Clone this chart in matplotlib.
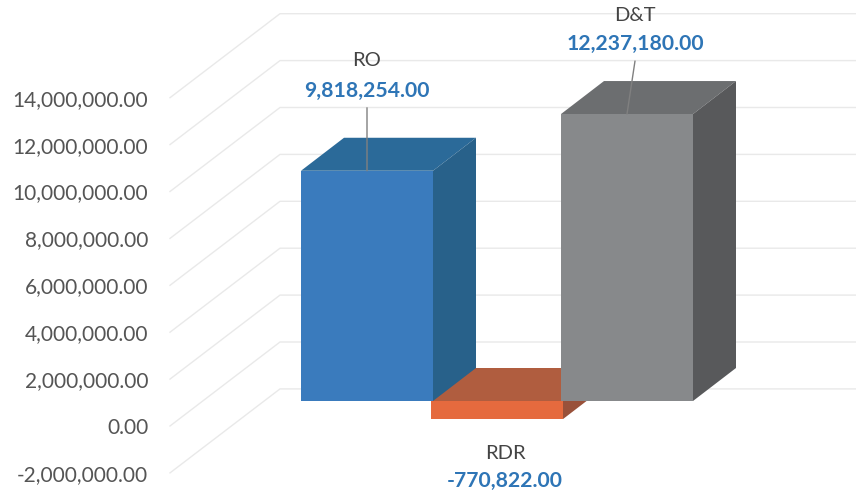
import matplotlib.pyplot as plt
from matplotlib.patches import Polygon

plt.rcParams['font.family'] = ['Lato', 'DejaVu Sans']

categories = ['RO', 'RDR', 'D&T']
values = [9818254.0, -770822.0, 12237180.0]
ticks = [-2000000, 0, 2000000, 4000000, 6000000, 8000000, 10000000, 12000000, 14000000]

front_colors = ['#3a7bbd', '#e56a3e', '#87898b']
top_colors = ['#2b6a99', '#b05d3f', '#6c6e70']
side_colors = ['#28618a', '#99513a', '#58595b']

# pretend-3D: how far things sit from the axis plane, in data units
px_y = 23.45 / 1e6     # pixels per unit on y
px_x = 130             # pixels per category
bar_plane = 25 / px_y
bar_dx = 43 / px_x
bar_dy = 33 / px_y
wall_left = (170 - 367) / px_x
wall_right = (280 - 367) / px_x
wall_dy = 84 / px_y
bar_w = 132 / px_x

fig = plt.figure(figsize=(8.56, 4.95), dpi=100)
ax = fig.add_axes([153 / 856, 0, 1 - 153 / 856, 1])
ax.set_xlim((153 - 367) / px_x, (856 - 367) / px_x)
ax.set_ylim(-69 / px_y, 426 / px_y)


def draw_bar(x, val, i):
    l = x - bar_w / 2
    r = x + bar_w / 2
    low = min(val, 0) + bar_plane
    high = max(val, 0) + bar_plane
    ax.add_patch(Polygon([(l, high), (r, high), (r + bar_dx, high + bar_dy), (l + bar_dx, high + bar_dy)],
                         fc=top_colors[i], ec='none', zorder=3))
    ax.add_patch(Polygon([(r, low), (r + bar_dx, low + bar_dy), (r + bar_dx, high + bar_dy), (r, high)],
                         fc=side_colors[i], ec='none', zorder=3))
    ax.add_patch(Polygon([(l, low), (r, low), (r, high), (l, high)],
                         fc=front_colors[i], ec='none', zorder=3))


# gridlines: slanted on the side wall, then flat along the back wall
for t in ticks:
    ax.plot([wall_left, wall_right, ax.get_xlim()[1]], [t, t + wall_dy, t + wall_dy],
            color='#e9e9e9', lw=1, zorder=1)

# RDR first, the other two sit over it
for i in [1, 0, 2]:
    draw_bar(i, values[i], i)

name_off = [(0, 110), (8, -34), (8, 99)]
val_off = [(0, 80), (8, -62), (8, 70)]
leader_off = [(0, 63), None, (8, 53)]

for i, name in enumerate(categories):
    y = values[i] + bar_plane
    ax.annotate(name, xy=(i, y), xytext=name_off[i], textcoords='offset pixels',
                ha='center', va='center', fontsize=14.5, color='#444444', zorder=5)
    ax.annotate(f'{values[i]:,.2f}', xy=(i, y), xytext=val_off[i], textcoords='offset pixels',
                ha='center', va='center', fontsize=15.2, fontweight='bold', color='#2e75b6', zorder=5)
    if leader_off[i] is not None:
        ax.annotate('', xy=(i, y), xytext=leader_off[i], textcoords='offset pixels',
                    arrowprops=dict(arrowstyle='-', color='#808080', lw=1, shrinkA=0, shrinkB=0), zorder=4)

ax.set_xticks([])
ax.set_yticks(ticks)
ax.set_yticklabels([f'{t:,.2f}' for t in ticks])
ax.tick_params(axis='y', length=0, pad=3.5, labelsize=15, labelcolor='#555555')
for s in ax.spines.values():
    s.set_visible(False)
ax.patch.set_alpha(0)

fig.savefig('out.png', dpi=100)
